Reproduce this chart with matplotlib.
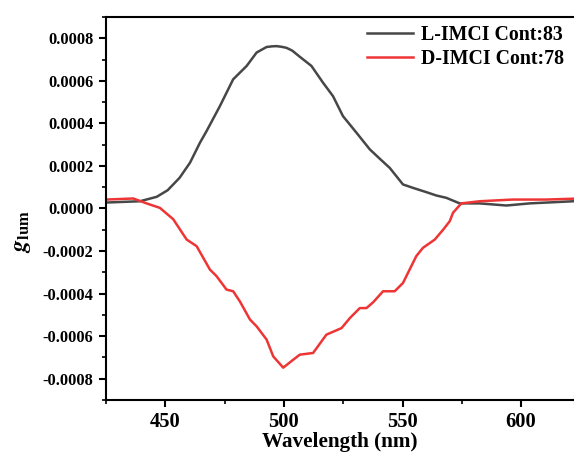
import numpy as np
import matplotlib.pyplot as plt
from matplotlib.ticker import MultipleLocator

plt.rcParams['font.family'] = 'Liberation Serif'
plt.rcParams['font.weight'] = 'bold'
plt.rcParams['mathtext.fontset'] = 'stix'

# CPL spectra (wavelength in nm, g_lum)
wl_L = [425, 439.3, 446.4, 451, 456, 460.4, 464.6, 467.4, 473, 478.6, 484.3, 488.5,
        492.7, 495, 496.9, 499, 501.1, 503.5, 506.7, 511.6, 516.5, 520.7, 524.9, 530.6, 536.2, 540.4,
        544.6, 550.2, 554.4, 560, 564.3, 568.5, 574.1, 582.5, 593.8, 603.6, 622]
g_L = [0.000028, 0.000034, 0.000055, 0.000086, 0.000144, 0.000215, 0.000309, 0.000364,
       0.000481, 0.000607, 0.00067, 0.000733, 0.000759, 0.000762, 0.000763, 0.00076,
       0.000755, 0.000742, 0.000713, 0.00067, 0.000591, 0.000528, 0.000434, 0.000356,
       0.000278, 0.000234, 0.000191, 0.000113, 0.000097, 0.000077, 0.000061, 0.00005,
       0.000024, 0.000024, 0.000014, 0.000024, 0.000034]

wl_D = [425, 436.5, 442.1, 447.7, 453.3, 459, 463.2, 468.8, 471.6, 475.8, 478.6, 481.4,
        485.7, 488.5, 492.7, 495.5, 499.7, 503.9, 506.7, 512.3, 517.9, 524.3, 527.8, 532,
        534.8, 537.6, 541.8, 546.7, 550.2, 555.8, 558.6, 563.6, 567.1, 569.9, 571.3,
        574.8, 582.5, 596.4, 610.6, 622]
g_D = [0.000042, 0.000047, 0.000024, 0.000003, -0.00005, -0.000146, -0.000177, -0.000287,
       -0.000318, -0.000381, -0.000389, -0.000436, -0.000522, -0.000554, -0.000616,
       -0.000695, -0.000748, -0.000711, -0.000687, -0.000679, -0.000593, -0.000562,
       -0.000515, -0.000468, -0.000468, -0.000441, -0.000389, -0.000389, -0.00035,
       -0.000224, -0.000185, -0.000146, -0.0001, -0.00006, -0.00002, 0.000024, 0.000034,
       0.000042, 0.000042, 0.000046]

fig = plt.figure(figsize=(5.74, 4.53), dpi=100)
ax = fig.add_axes([0.1847, 0.117, 0.8153, 0.8455])

ax.plot(wl_L, g_L, color='#474747', lw=1.8, label='L-IMCI Cont:83')
ax.plot(wl_D, g_D, color='#ee3535', lw=1.8, label='D-IMCI Cont:78')

ax.set_xlim(425, 622.3)
ax.set_ylim(-0.0009, 0.0009)
ax.xaxis.set_major_locator(MultipleLocator(50))
ax.xaxis.set_minor_locator(MultipleLocator(25))
ax.yaxis.set_major_locator(MultipleLocator(0.0002))
ax.yaxis.set_minor_locator(MultipleLocator(0.0001))
ax.yaxis.set_major_formatter(plt.FuncFormatter(lambda v, p: '%.4f' % v))

ax.spines['right'].set_visible(False)
for s in ['left', 'bottom', 'top']:
    ax.spines[s].set_linewidth(1.5)
ax.tick_params(which='major', direction='out', length=5, width=1.5)
ax.tick_params(which='minor', direction='out', length=3, width=1.2)
ax.tick_params(axis='y', which='major', labelsize=11.8, pad=4)
ax.tick_params(axis='x', which='major', labelsize=14.8, pad=4)
for lab in ax.get_xticklabels() + ax.get_yticklabels():
    lab.set_fontweight('bold')

ax.set_xlabel('Wavelength (nm)', fontsize=15.2, fontweight='bold', labelpad=0)
ax.set_ylabel(r'$\mathbfit{g}_{\mathbf{lum}}$', fontsize=17)
ax.yaxis.set_label_coords(-0.155, 0.44)

ax.legend(loc='upper right', frameon=False, fontsize=14.3, handlelength=2.3,
          borderaxespad=0.0, labelspacing=0.2, handletextpad=0.4,
          bbox_to_anchor=(0.995, 1.0))

fig.savefig('out.png', dpi=100)
